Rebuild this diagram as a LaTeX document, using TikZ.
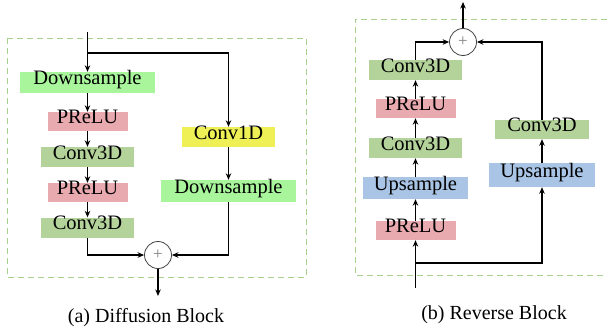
\documentclass[tikz,border=0pt]{standalone}
\usepackage{fontspec}
\setmainfont{Liberation Serif}
\usetikzlibrary{arrows.meta}
\definecolor{dsgreen}{HTML}{A8F59C}
\definecolor{prpink}{HTML}{E8A9AF}
\definecolor{cvgreen}{HTML}{B4D39B}
\definecolor{cvyellow}{HTML}{EEF055}
\definecolor{upblue}{HTML}{A9C4E4}
\definecolor{boxgreen}{HTML}{A9D18E}
\begin{document}
\begin{tikzpicture}[x=1pt,y=-1pt,
  blk/.style={inner sep=0pt, text height=0.68em, text depth=0.2em,
    font=\fontsize{20.5}{23}\selectfont},
  dsbox/.style={blk, fill=dsgreen, minimum width=135pt, minimum height=21pt},
  prbox/.style={blk, fill=prpink, minimum width=80pt, minimum height=19pt},
  cvbox/.style={blk, fill=cvgreen, minimum width=93pt, minimum height=20pt},
  c1box/.style={blk, fill=cvyellow, minimum width=93pt, minimum height=20pt},
  upbox/.style={blk, fill=upblue, minimum width=105pt, minimum height=22pt},
  plus/.style={circle, draw=black!75, line width=0.8pt, minimum size=27pt, inner sep=0pt,
    text=black!50, font=\fontsize{17}{17}\selectfont},
  conn/.style={line width=1.1pt, -{Stealth[length=6.5pt,width=5.5pt]}},
  frame/.style={draw=boxgreen, line width=0.9pt, dash pattern=on 6pt off 4pt},
  captxt/.style={font=\fontsize{20}{22}\selectfont}
]
\useasboundingbox (0,0) rectangle (607,334);
% frames
\draw[frame] (7,38) rectangle (306,277);
\draw[frame] (607,19) -- (355,19) -- (355,275) -- (607,275);

% ---------- (a) Diffusion Block ----------
\node[dsbox] (ds1) at (87.5,82.5) {Downsample};
\node[prbox] (pr1) at (87.5,121.5) {PReLU};
\node[cvbox] (cv1) at (87.5,157) {Conv3D};
\node[prbox] (pr2) at (87.5,192.5) {PReLU};
\node[cvbox] (cv2) at (87.5,227.5) {Conv3D};
\node[c1box] (c1d) at (228.5,137) {Conv1D};
\node[dsbox, minimum height=22pt] (ds2) at (228.5,191) {Downsample};
\node[plus] (p1) at (158,255) {+};
\coordinate (ina) at (87.5,32);
\coordinate (bra) at (87.5,53);
\coordinate (outa) at (158,296);

\draw[conn] (ina) -- (ds1);
\draw[conn] (bra) -| (c1d);
\draw[conn] (ds1) -- (pr1);
\draw[conn] (pr1) -- (cv1);
\draw[conn] (cv1) -- (pr2);
\draw[conn] (pr2) -- (cv2);
\draw[conn] (c1d) -- (ds2);
\draw[conn] (cv2.south) |- (p1.west);
\draw[conn] (ds2.south) |- (p1.east);
\draw[conn] (p1) -- (outa);
\node[captxt] (capa) at (146,318) {(a) Diffusion Block};

% ---------- (b) Reverse Block ----------
\node[cvbox] (cvt) at (415.5,70) {Conv3D};
\node[prbox] (prm) at (415.5,108.5) {PReLU};
\node[cvbox] (cvm) at (415.5,148) {Conv3D};
\node[upbox] (upl) at (415.5,188) {Upsample};
\node[prbox] (prb) at (415.5,230.5) {PReLU};
\node[upbox, minimum width=106pt, minimum height=24pt] (upr) at (542,175) {Upsample};
\node[cvbox, minimum width=94pt, minimum height=19pt] (cvr) at (542,129.5) {Conv3D};
\node[plus] (p2) at (463,42) {+};
\coordinate (inb) at (415.5,288);
\coordinate (brb) at (415.5,263);
\coordinate (outb) at (463,2);

\draw[conn] (inb) -- (prb);
\draw[conn] (brb) -| (upr);
\draw[conn] (prb) -- (upl);
\draw[conn] (upl) -- (cvm);
\draw[conn] (cvm) -- (prm);
\draw[conn] (prm) -- (cvt);
\draw[conn] (upr) -- (cvr);
\draw[conn] (cvt.north) |- (p2.west);
\draw[conn] (cvr.north) |- (p2.east);
\draw[conn] (p2) -- (outb);
\node[captxt] (capb) at (494,315) {(b) Reverse Block};
\end{tikzpicture}
\end{document}
